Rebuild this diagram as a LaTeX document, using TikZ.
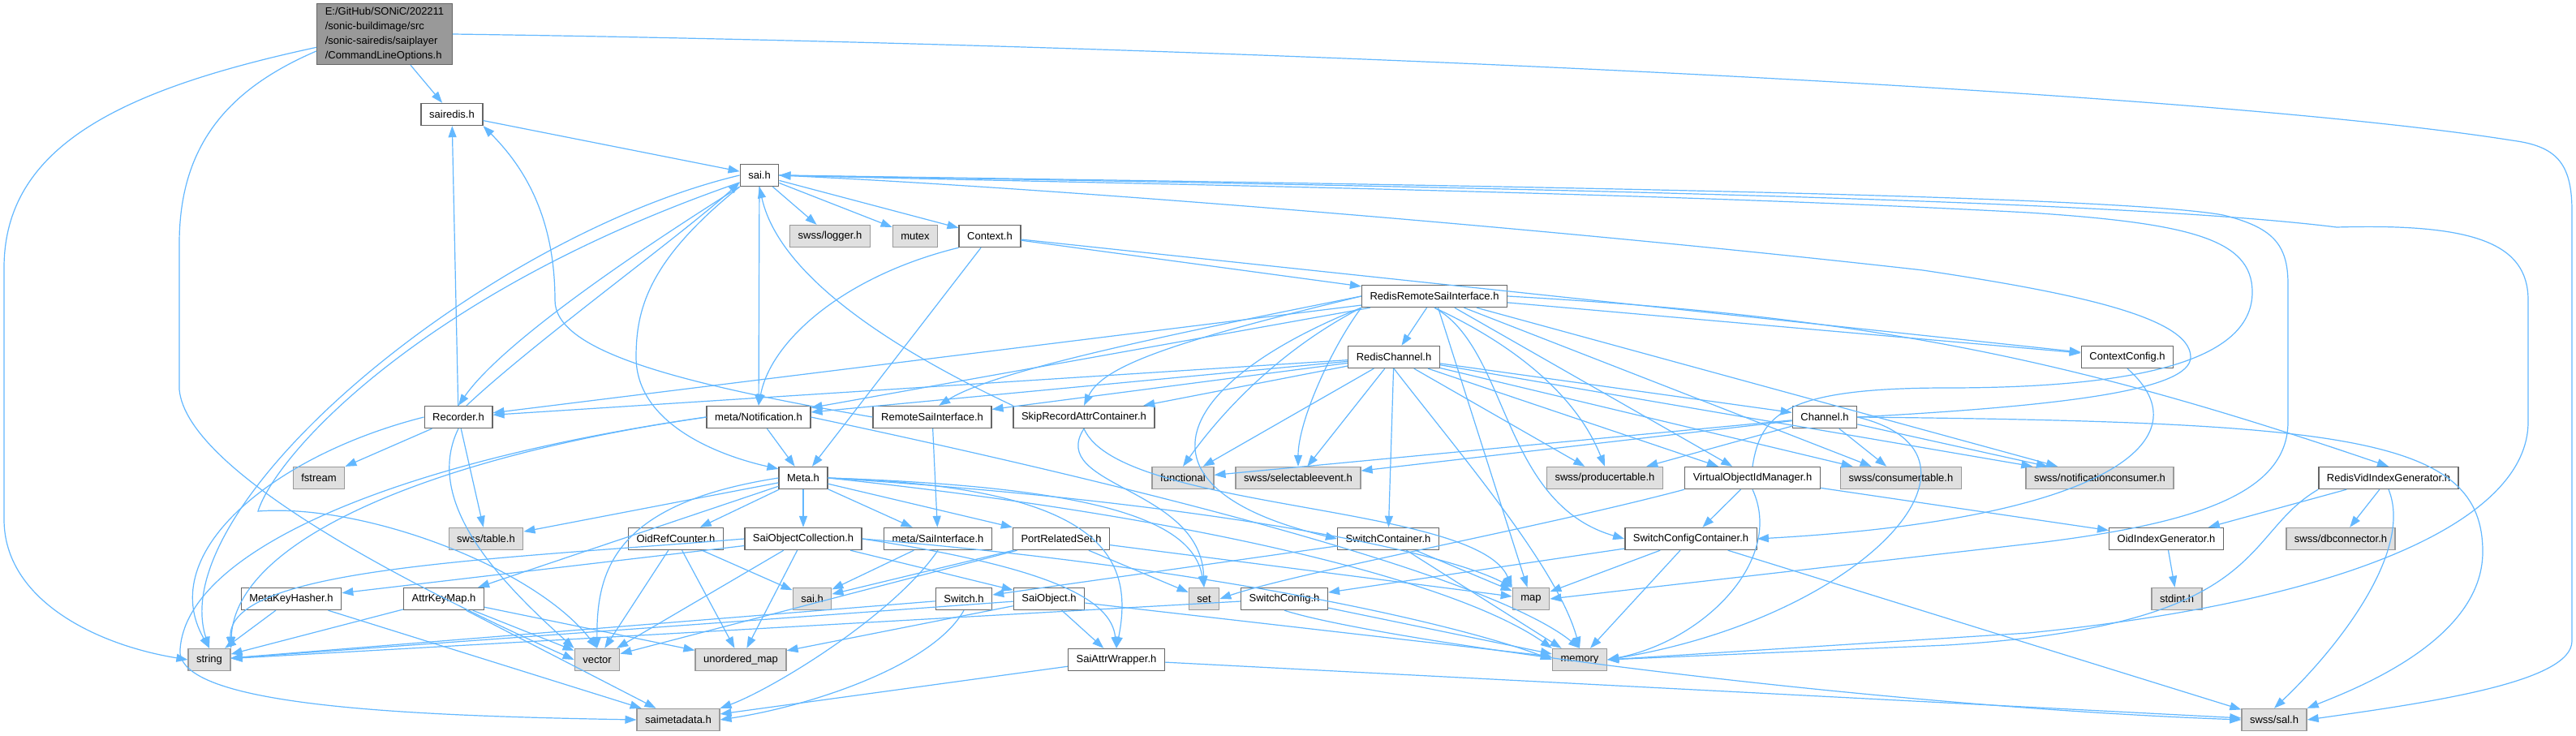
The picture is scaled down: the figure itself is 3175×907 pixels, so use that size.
\documentclass[tikz,border=0pt]{standalone}
\usepackage{fontspec}
\setmainfont{Liberation Sans}
\usepackage{xcolor}
\usepackage{tikz}
\usetikzlibrary{arrows.meta}
\definecolor{edgeblue}{RGB}{99,184,255}
\definecolor{framegray}{RGB}{102,102,102}
\definecolor{sysfill}{RGB}{224,224,224}
\definecolor{sysframe}{RGB}{153,153,153}
\definecolor{curfill}{RGB}{153,153,153}

\begin{document}
\begin{tikzpicture}[x=1pt, y=-1pt,
  hdr/.style={draw=framegray, line width=1.4pt, fill=white, minimum height=27pt, inner xsep=10pt, inner ysep=0pt, font=\fontsize{13}{15}\selectfont},
  sys/.style={hdr, draw=sysframe, fill=sysfill},
  cur/.style={hdr, fill=curfill, align=left, minimum height=75pt, font=\fontsize{13}{18}\selectfont},
  dep/.style={draw=edgeblue, line width=1.2pt, -{Triangle[length=14pt,width=10pt]}}]
\path[fill=white] (0,0) rectangle (3175,907);
\node[cur] (clo) at (474,42) {E:/GitHub/SONiC/202211\\/sonic-buildimage/src\\/sonic-sairedis/saiplayer\\/CommandLineOptions.h};
\node[hdr] (sairedis) at (557,141) {sairedis.h};
\node[hdr] (sai) at (936,216) {sai.h};
\node[sys] (logger) at (1023,291) {swss/logger.h};
\node[sys] (mutex) at (1128,291) {mutex};
\node[hdr] (context) at (1220,291) {Context.h};
\node[hdr] (rrsi) at (1768,365) {RedisRemoteSaiInterface.h};
\node[hdr] (redischan) at (1718,440) {RedisChannel.h};
\node[hdr] (ctxcfg) at (2622,440) {ContextConfig.h};
\node[hdr] (recorder) at (565,514) {Recorder.h};
\node[hdr] (notif) at (935,514) {meta/Notification.h};
\node[hdr] (remotesai) at (1149,514) {RemoteSaiInterface.h};
\node[hdr] (skiprec) at (1336,514) {SkipRecordAttrContainer.h};
\node[hdr] (channel) at (2249,514) {Channel.h};
\node[sys] (fstream) at (393,589) {fstream};
\node[hdr] (meta) at (990,589) {Meta.h};
\node[sys] (functional) at (1458,589) {functional};
\node[sys] (selev) at (1600,589) {swss/selectableevent.h};
\node[sys] (prodtab) at (1978,589) {swss/producertable.h};
\node[hdr] (voim) at (2160,589) {VirtualObjectIdManager.h};
\node[sys] (constab) at (2343,589) {swss/consumertable.h};
\node[sys] (notifcons) at (2588,589) {swss/notificationconsumer.h};
\node[hdr] (rvig) at (2944,589) {RedisVidIndexGenerator.h};
\node[sys] (swtable) at (599,664) {swss/table.h};
\node[hdr] (oidref) at (833,664) {OidRefCounter.h};
\node[hdr] (soc) at (990,664) {SaiObjectCollection.h};
\node[hdr] (msi) at (1156,664) {meta/SaiInterface.h};
\node[hdr] (prs) at (1308,664) {PortRelatedSet.h};
\node[hdr] (swcont) at (1711,664) {SwitchContainer.h};
\node[hdr] (sccont) at (2084,664) {SwitchConfigContainer.h};
\node[hdr] (oidx) at (2670,664) {OidIndexGenerator.h};
\node[sys] (dbconn) at (2885,664) {swss/dbconnector.h};
\node[hdr] (mkh) at (359,738) {MetaKeyHasher.h};
\node[hdr] (akm) at (547,738) {AttrKeyMap.h};
\node[sys] (saig) at (1001,738) {sai.h};
\node[hdr] (switch) at (1188,738) {Switch.h};
\node[hdr] (saiobj) at (1293,738) {SaiObject.h};
\node[sys] (set) at (1484,738) {set};
\node[hdr] (swcfg) at (1583,738) {SwitchConfig.h};
\node[sys] (map) at (1887,738) {map};
\node[sys] (stdint) at (2683,738) {stdint.h};
\node[sys] (string) at (258,813) {string};
\node[sys] (vector) at (736,813) {vector};
\node[sys] (umap) at (913,813) {unordered\_map};
\node[hdr] (saw) at (1376,813) {SaiAttrWrapper.h};
\node[sys] (memory) at (1947,813) {memory};
\node[sys] (saimeta) at (836,887) {saimetadata.h};
\node[sys] (sal) at (2803,887) {swss/sal.h};

\draw[dep] (clo) -- (sairedis);
\draw[dep] (clo.191) .. controls (150,110) and (5,180) .. (5,330) -- (5,640) .. controls (5,740) and (120,795) .. (string.west);
\draw[dep] (clo.194) .. controls (280,110) and (221,180) .. (221,300) -- (221,480) .. controls (230,580) and (500,720) .. (vector.west);
\draw[dep] (clo.east) .. controls (1500,55) and (2700,110) .. (3096,173) .. controls (3150,180) and (3170,200) .. (3170,260) -- (3170,790) .. controls (3170,840) and (3000,865) .. (sal.east);
\draw[dep] (sairedis) -- (sai);
\foreach \dst in {logger,mutex,context,notif} \draw[dep] (sai) -- (\dst);
\draw[dep] (sai.south west) .. controls (800,300) and (620,420) .. (recorder.north);
\draw[dep] ([xshift=10pt]recorder.north) .. controls (660,420) and (840,290) .. (sai.200);
\draw[dep] (sai.south west) .. controls (800,320) and (784,380) .. (784,440) .. controls (784,520) and (880,560) .. (meta.160);
\draw[dep] (sai.west) .. controls (600,290) and (200,620) .. (string.north);
\draw[dep] (sai.200) .. controls (520,360) and (340,560) .. (318,630) .. controls (450,620) and (660,700) .. (vector.north);
\draw[dep] (sai.east) .. controls (1800,230) and (2600,245) .. (2880,280) .. controls (3050,275) and (3116,300) .. (3116,370) -- (3116,520) .. controls (3116,640) and (2900,740) .. (2500,780) -- (memory.east);
\draw[dep] (sai.east) .. controls (1800,228) and (2600,240) .. (2740,265) .. controls (2800,280) and (2820,300) .. (2820,350) -- (2820,520) .. controls (2820,610) and (2700,645) .. (2520,668) -- (map.east);
\foreach \dst in {sairedis,fstream,swtable} \draw[dep] (recorder) -- (\dst);
\draw[dep] (recorder.west) .. controls (340,560) and (190,680) .. (string.north);
\draw[dep] (recorder.south) .. controls (520,620) and (620,720) .. (vector.north west);
\foreach \dst in {rrsi,ctxcfg,meta} \draw[dep] (context) -- (\dst);
\draw[dep] (context.south west) .. controls (1040,340) and (950,420) .. (notif.north);
\draw[dep] (skiprec.north west) .. controls (1100,430) and (960,340) .. (sai.south);
\draw[dep] (remotesai.west) .. controls (820,470) and (684,430) .. (684,370) .. controls (684,260) and (640,200) .. (sairedis.south east);
\draw[dep] (remotesai) -- (msi);
\foreach \dst in {redischan,recorder,notif,map,voim,constab,notifcons,ctxcfg} \draw[dep] (rrsi) -- (\dst);
\draw[dep] (rrsi.west) .. controls (1400,420) and (1220,460) .. (remotesai.60);
\draw[dep] (rrsi.west) .. controls (1450,420) and (1360,450) .. (skiprec.north);
\draw[dep] (rrsi.south west) .. controls (1560,440) and (1490,530) .. (functional.north);
\draw[dep] (rrsi.south west) .. controls (1640,430) and (1600,520) .. (selev.north);
\draw[dep] (rrsi.south) .. controls (1920,450) and (1960,530) .. (prodtab.north);
\draw[dep] (rrsi.south) .. controls (1860,430) and (1850,620) .. (sccont.west);
\draw[dep] (rrsi.south west) .. controls (1450,470) and (1380,600) .. (swcont.west);
\draw[dep] (rrsi.east) .. controls (2300,390) and (2550,440) .. (rvig.north);
\foreach \dst in {channel,remotesai,skiprec,recorder,notif,functional,selev,swcont,prodtab,voim,constab,notifcons} \draw[dep] (redischan) -- (\dst);
\draw[dep] (redischan.south) .. controls (1800,560) and (1920,700) .. (memory.north);
\foreach \dst in {selev,functional,prodtab,constab,notifcons} \draw[dep] (channel) -- (\dst);
\draw[dep] (channel.east) .. controls (2550,500) and (2700,480) .. (2700,440) .. controls (2700,390) and (2550,360) .. (2370,333) .. controls (1900,280) and (1300,232) .. (sai.east);
\draw[dep] (channel.east) .. controls (2480,560) and (2300,760) .. (memory.east);
\draw[dep] (channel.east) .. controls (2900,520) and (3060,540) .. (3060,680) .. controls (3060,790) and (2900,850) .. (sal.north east);
\draw[dep] (voim.north) .. controls (2170,510) and (2200,478) .. (2400,478) .. controls (2650,478) and (2776,440) .. (2776,360) .. controls (2776,295) and (2700,275) .. (2500,262) .. controls (2000,235) and (1300,225) .. (sai.east);
\foreach \dst in {sccont,oidx} \draw[dep] (voim) -- (\dst);
\draw[dep] (voim.south west) .. controls (1900,650) and (1600,705) .. (set.east);
\draw[dep] (voim.south) .. controls (2200,690) and (2100,790) .. (memory.east);
\draw[dep] (ctxcfg.south) .. controls (2720,540) and (2600,640) .. (sccont.east);
\foreach \dst in {oidx,dbconn} \draw[dep] (rvig) -- (\dst);
\draw[dep] (rvig.south) .. controls (2975,680) and (2880,800) .. (sal.north);
\draw[dep] (rvig.south west) .. controls (2760,660) and (2800,770) .. (2400,795) -- (memory.east);
\draw[dep] (oidx) -- (stdint);
\foreach \dst in {map,memory,swcfg,sal} \draw[dep] (sccont) -- (\dst);
\foreach \dst in {map,memory,switch} \draw[dep] (swcont) -- (\dst);
\draw[dep] (skiprec.south) .. controls (1290,600) and (1480,600) .. (set.north);
\draw[dep] (skiprec.south) .. controls (1380,630) and (1820,620) .. (map.north west);
\draw[dep] (notif) -- (meta);
\draw[dep] (notif.east) .. controls (1500,620) and (1850,720) .. (memory.north);
\draw[dep] (notif.west) .. controls (550,560) and (290,660) .. (string.north east);
\draw[dep] (notif.west) .. controls (480,570) and (230,680) .. (222,800) .. controls (215,870) and (500,882) .. (saimeta.west);
\foreach \dst in {oidref,soc,msi,prs,swtable,akm} \draw[dep] (meta) -- (\dst);
\draw[dep] (meta.east) .. controls (1350,600) and (1470,640) .. (set.north);
\draw[dep] (meta.east) .. controls (1350,600) and (1400,680) .. (saw.north);
\draw[dep] (meta.east) .. controls (1500,640) and (1800,720) .. (memory.north west);
\draw[dep] (meta.east) .. controls (1500,620) and (1780,680) .. (map.north west);
\draw[dep] (meta.west) .. controls (760,620) and (735,700) .. (vector.north);
\foreach \dst in {saig,umap,vector} \draw[dep] (oidref) -- (\dst);
\foreach \dst in {saiobj,vector,umap,mkh} \draw[dep] (soc) -- (\dst);
\draw[dep] (soc.west) .. controls (600,690) and (280,700) .. (string.north east);
\draw[dep] (soc.east) .. controls (1300,700) and (1370,740) .. (saw.north);
\draw[dep] (soc.east) .. controls (1500,700) and (1800,770) .. (memory.west);
\draw[dep] (msi) -- (saig);
\draw[dep] (msi.south) .. controls (1100,760) and (950,850) .. (saimeta.north east);
\foreach \dst in {set,saig,vector,map} \draw[dep] (prs) -- (\dst);
\foreach \dst in {umap,saw,string,memory} \draw[dep] (saiobj) -- (\dst);
\draw[dep] (switch) -- (string);
\draw[dep] (switch.south) .. controls (1150,820) and (1000,870) .. (saimeta.east);
\foreach \dst in {string,memory} \draw[dep] (swcfg) -- (\dst);
\draw[dep] (swcfg.south) .. controls (1700,790) and (2300,870) .. (sal.west);
\foreach \dst in {saimeta,sal} \draw[dep] (saw) -- (\dst);
\foreach \dst in {string,vector,umap,saimeta} \draw[dep] (akm) -- (\dst);
\foreach \dst in {string,saimeta} \draw[dep] (mkh) -- (\dst);
\end{tikzpicture}
\end{document}
